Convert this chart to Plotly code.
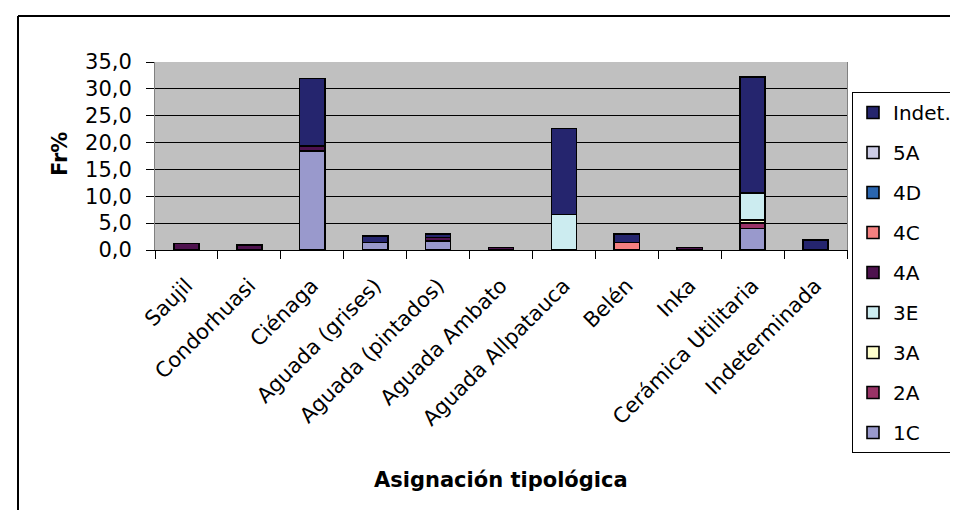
import plotly.graph_objects as go

categories = ["Saujil", "Condorhuasi", "Ciénaga", "Aguada (grises)", "Aguada (pintados)",
              "Aguada Ambato", "Aguada Allpatauca", "Belén", "Inka",
              "Cerámica Utilitaria", "Indeterminada"]

s_1C    = [0, 0, 18.4, 1.4, 1.7, 0, 0, 0, 0, 4.0, 0]
s_2A    = [0, 0, 0, 0, 0, 0, 0, 0, 0, 1.0, 0]
s_3A    = [0, 0, 0, 0, 0, 0, 0, 0, 0, 0.6, 0]
s_3E    = [0, 0, 0, 0, 0, 0, 6.6, 0, 0, 5.0, 0]
s_4A    = [1.2, 0.9, 1.0, 0, 0.6, 0.5, 0, 0, 0.5, 0, 0]
s_4C    = [0, 0, 0, 0, 0, 0, 0, 1.4, 0, 0, 0]
s_4D    = [0, 0, 0, 0, 0, 0, 0, 0, 0, 0, 0]
s_5A    = [0, 0, 0, 0, 0, 0, 0, 0, 0, 0, 0]
s_Indet = [0, 0, 12.5, 1.2, 0.7, 0, 16.0, 1.6, 0, 21.6, 1.9]

series_names = ["1C", "2A", "3A", "3E", "4A", "4C", "4D", "5A", "Indet."]
series_values = [s_1C, s_2A, s_3A, s_3E, s_4A, s_4C, s_4D, s_5A, s_Indet]
series_colors = ["#9999CC", "#993366", "#FFFFCC", "#CCECF0", "#4E124E",
                 "#F48080", "#2A66B0", "#CCCCE6", "#25256E"]

FONT = "DejaVu Sans"

fig = go.Figure()
n = len(series_names)
for i, (name, vals, col) in enumerate(zip(series_names, series_values, series_colors)):
    fig.add_trace(go.Bar(
        x=categories,
        y=[v if v else None for v in vals],
        name=name,
        legendgroup=name,
        legendrank=100 + (n - i),
        marker=dict(color=col, line=dict(color="black", width=1.6)),
    ))

W, H = 958, 510
L, R, T, B = 147, 119, 54, 268
pw = W - L - R
ph = H - T - B

def px(x):
    return (x - L) / pw

def py(y):
    return (H - B - y) / ph

fig.update_layout(
    width=W, height=H,
    barmode="stack",
    bargap=0.6,
    separators=",.",
    paper_bgcolor="white",
    plot_bgcolor="#C0C0C0",
    margin=dict(l=L, r=R, t=T, b=B, autoexpand=False),
    font=dict(family=FONT, size=20, color="black"),
    showlegend=True,
    legend=dict(
        x=px(844), xanchor="left",
        yref="container", y=(H - 84) / H, yanchor="top",
        maxheight=460,
        traceorder="grouped",
        tracegroupgap=11,
        bordercolor="black", borderwidth=1,
        bgcolor="white",
        font=dict(family=FONT, size=20, color="black"),
    ),
    xaxis=dict(
        showgrid=False,
        showline=True, linecolor="black", linewidth=1,
        ticks="outside", tickson="boundaries", ticklen=8, tickcolor="black",
        tickangle=-45,
        ticklabelstandoff=14,
        tickfont=dict(family=FONT, size=21, color="black"),
    ),
    yaxis=dict(
        range=[0, 35], dtick=5, tick0=0, tickformat=".1f",
        showgrid=True, gridcolor="black", gridwidth=1,
        showline=True, linecolor="#808080", mirror=True,
        zeroline=False,
        ticks="outside", ticklen=8, tickcolor="black",
        ticklabelstandoff=10,
        tickfont=dict(family=FONT, size=21, color="black"),
    ),
    annotations=[
        dict(text="<b>Fr%</b>", xref="paper", yref="paper",
             x=px(52), y=py(146), textangle=-90, showarrow=False,
             xanchor="center", yanchor="middle",
             font=dict(family=FONT, size=21, color="black")),
        dict(text="<b>Asignación tipológica</b>", xref="paper", yref="paper",
             x=0.5, y=py(472), showarrow=False,
             xanchor="center", yanchor="middle",
             font=dict(family=FONT, size=21, color="black")),
    ],
    shapes=[
        dict(type="line", xref="paper", yref="paper",
             x0=px(10), x1=px(10), y0=py(8), y1=py(H + 5),
             line=dict(color="black", width=2)),
        dict(type="line", xref="paper", yref="paper",
             x0=px(10), x1=px(W + 5), y0=py(8), y1=py(8),
             line=dict(color="black", width=2)),
    ],
)

fig.write_html("out.html")
